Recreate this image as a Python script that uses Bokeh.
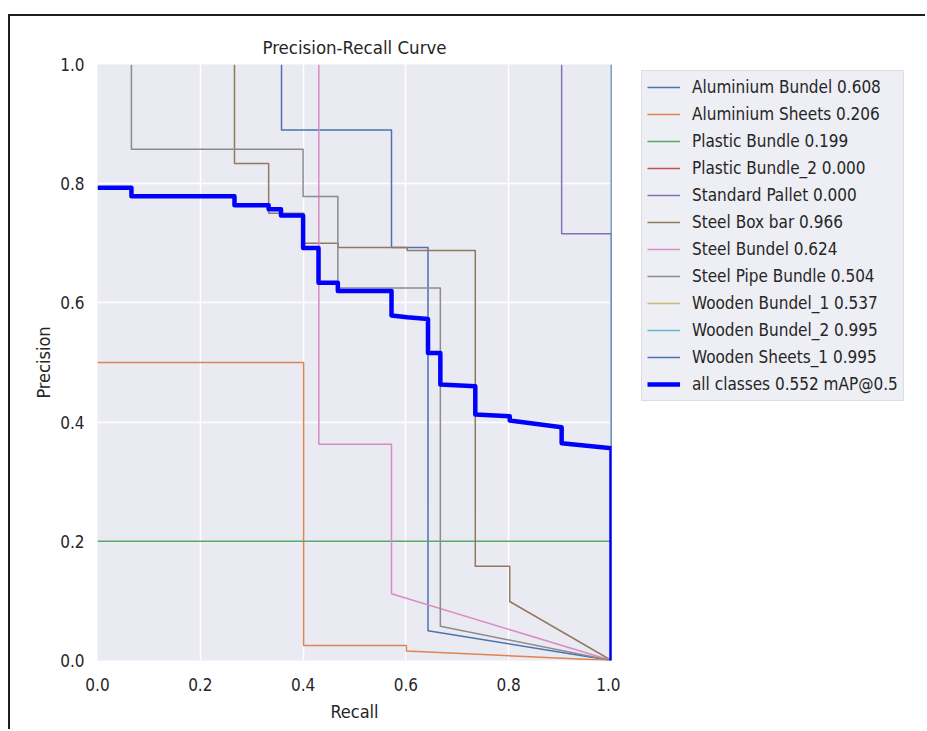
from bokeh.plotting import figure
from bokeh.layouts import row
from bokeh.models import Range1d, Legend, LegendItem, NumeralTickFormatter, FixedTicker
from bokeh.embed import file_html
from bokeh.resources import INLINE

# ---- data ----
class_names = ["Aluminium Bundel", "Aluminium Sheets", "Plastic Bundle", "Plastic Bundle_2",
               "Standard Pallet", "Steel Box bar", "Steel Bundel", "Steel Pipe Bundle",
               "Wooden Bundel_1", "Wooden Bundel_2", "Wooden Sheets_1"]
class_ap = [0.608, 0.206, 0.199, 0.000, 0.000, 0.966, 0.624, 0.504, 0.537, 0.995, 0.995]
map50 = 0.552

al_bundel_r = [0.358, 0.358, 0.572, 0.572, 0.643, 0.643, 1.0]
al_bundel_p = [1.0, 0.890, 0.890, 0.693, 0.693, 0.050, 0.0]

al_sheets_r = [0.0, 0.401, 0.401, 0.601, 0.601, 1.0]
al_sheets_p = [0.500, 0.500, 0.025, 0.025, 0.016, 0.0]

plastic_r = [0.0, 1.0, 1.0]
plastic_p = [0.200, 0.200, 0.0]

# AP 0.000: precision 0 everywhere (not visible in the picture)
plastic2_r = [0.0, 1.0]
plastic2_p = [0.0, 0.0]

pallet_r = [0.903, 0.903, 1.0, 1.0]
pallet_p = [1.0, 0.716, 0.716, 0.0]

boxbar_r = [0.2665, 0.2665, 0.333, 0.333, 0.401, 0.401, 0.468, 0.468, 0.6025, 0.6025,
            0.735, 0.735, 0.802, 0.802, 1.0]
boxbar_p = [1.0, 0.834, 0.834, 0.7505, 0.7505, 0.700, 0.700, 0.693, 0.693, 0.688,
            0.688, 0.158, 0.158, 0.099, 0.0]

steel_bundel_r = [0.4306, 0.4306, 0.572, 0.572, 1.0]
steel_bundel_p = [1.0, 0.363, 0.363, 0.112, 0.0]

pipe_r = [0.066, 0.066, 0.400, 0.400, 0.4676, 0.4676, 0.667, 0.667, 1.0]
pipe_p = [1.0, 0.858, 0.858, 0.7785, 0.7785, 0.625, 0.625, 0.0576, 0.0]

# not visible in the picture (hidden behind the frame edge)
wooden1_r = [1.0, 1.0]
wooden1_p = [1.0, 0.0]

wooden2_r = [1.0, 1.0]
wooden2_p = [1.0, 0.0]

wsheets_r = [1.0, 1.0]
wsheets_p = [1.0, 0.0]

visible_flags = [True, True, True, False, True, True, True, True, False, True, True]

all_r = [0.0, 0.066, 0.066, 0.2665, 0.2665, 0.333, 0.333, 0.357, 0.357, 0.400, 0.400,
         0.430, 0.430, 0.4676, 0.4676, 0.572, 0.572, 0.6025, 0.643, 0.643, 0.667, 0.667,
         0.735, 0.735, 0.802, 0.802, 0.903, 0.903, 1.0, 1.0]
all_p = [0.793, 0.793, 0.779, 0.779, 0.764, 0.764, 0.757, 0.757, 0.7466, 0.7466, 0.692,
         0.692, 0.634, 0.634, 0.620, 0.620, 0.579, 0.576, 0.573, 0.516, 0.516, 0.463,
         0.460, 0.4128, 0.410, 0.4027, 0.3915, 0.3646, 0.356, 0.0]

ticks = [0.0, 0.2, 0.4, 0.6, 0.8, 1.0]

colors = ["#4C72B0", "#DD8452", "#55A868", "#C44E52", "#8172B3", "#937860",
          "#DA8BC3", "#8C8C8C", "#CCB974", "#64B5CD", "#4C72B0"]

series = [(al_bundel_r, al_bundel_p), (al_sheets_r, al_sheets_p), (plastic_r, plastic_p),
          (plastic2_r, plastic2_p), (pallet_r, pallet_p), (boxbar_r, boxbar_p),
          (steel_bundel_r, steel_bundel_p), (pipe_r, pipe_p), (wooden1_r, wooden1_p),
          (wooden2_r, wooden2_p), (wsheets_r, wsheets_p)]

FONT = "DejaVu Sans Condensed, DejaVu Sans"
TXT = "#262626"
H = 713

# ---- main plot ----
p = figure(width=610, height=H, x_range=Range1d(0, 1), y_range=Range1d(0, 1),
           output_backend="svg", toolbar_location=None,
           min_border_left=87, min_border_right=9, min_border_top=48, min_border_bottom=69,
           background_fill_color="#EAEAF2", border_fill_color="white",
           outline_line_color=None, title="Precision-Recall Curve")

p.title.align = "center"
p.title.text_font = FONT
p.title.text_font_size = "18.5px"
p.title.text_font_style = "normal"
p.title.text_color = TXT
p.title.standoff = 14

for ax in (p.xaxis, p.yaxis):
    ax.ticker = FixedTicker(ticks=ticks)
    ax.formatter = NumeralTickFormatter(format="0.0")
    ax.axis_line_color = None
    ax.major_tick_line_color = None
    ax.minor_tick_line_color = None
    ax.major_tick_in = 0
    ax.major_tick_out = 0
    ax.major_label_text_font = FONT
    ax.major_label_text_font_size = "17px"
    ax.major_label_text_color = TXT
    ax.axis_label_text_font = FONT
    ax.axis_label_text_font_size = "18px"
    ax.axis_label_text_font_style = "normal"
    ax.axis_label_text_color = TXT

p.xaxis.axis_label = "Recall"
p.yaxis.axis_label = "Precision"
p.xaxis.major_label_standoff = 17
p.yaxis.major_label_standoff = 13
p.xaxis.axis_label_standoff = 7
p.yaxis.axis_label_standoff = 3

p.grid.ticker = FixedTicker(ticks=ticks)
p.grid.grid_line_color = "white"
p.grid.grid_line_width = 1.5

# ---- legend panel (separate figure so the legend is not clipped by the frame) ----
q = figure(width=305, height=H, x_range=Range1d(0, 1), y_range=Range1d(0, 1),
           x_axis_type=None, y_axis_type=None, output_backend="svg", toolbar_location=None,
           min_border=0, background_fill_color="white", border_fill_color="white",
           outline_line_color=None)

items = []
for name, ap, (r, pr), c, vis in zip(class_names, class_ap, series, colors, visible_flags):
    rr = p.line(r, pr, line_color=c, line_width=1.5, line_join="round")
    rr.visible = vis
    lr = q.line(r, pr, line_color=c, line_width=1.5)
    lr.visible = False
    items.append(LegendItem(label=f"{name} {ap:.3f}", renderers=[lr]))

p.line(all_r, all_p, line_color="blue", line_width=4.5, line_join="round")
la = q.line(all_r, all_p, line_color="blue", line_width=4.5)
la.visible = False
items.append(LegendItem(label=f"all classes {map50:.3f} mAP@0.5", renderers=[la]))

leg = Legend(items=items, location=(21, 259), margin=0, padding=5, spacing=5,
             label_height=22, glyph_height=22, glyph_width=33, label_standoff=12,
             label_text_font=FONT, label_text_font_size="17px", label_text_color=TXT,
             background_fill_color="#EEEEF5", background_fill_alpha=1.0,
             border_line_color="#CCCCCC", border_line_width=1,
             inactive_fill_alpha=0.0)
q.add_layout(leg, "center")

layout = row(p, q, spacing=0)
layout.styles = {"border-top": "2px solid #1e1e1e", "border-left": "2px solid #1e1e1e",
                 "margin-top": "14px", "margin-left": "8px"}

open("out.html", "w").write(file_html(layout, INLINE))
